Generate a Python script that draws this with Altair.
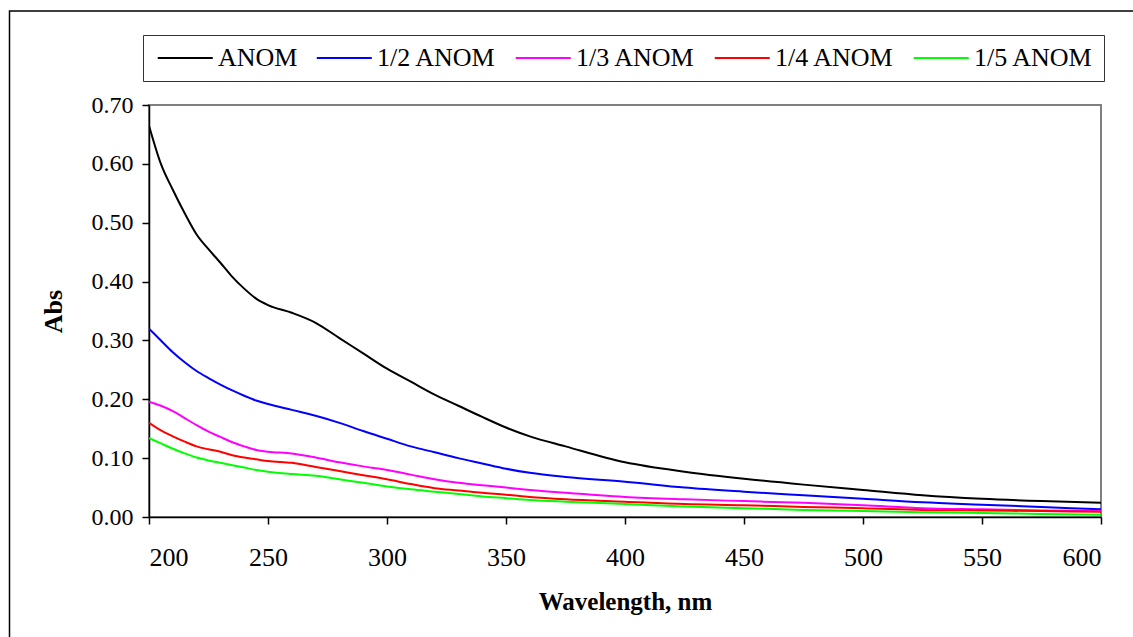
import altair as alt
import pandas as pd

FONT = "Liberation Serif"

# Wavelength grid (nm) shared by all spectra
wavelength = [200, 205, 210, 215, 220, 225, 230, 235, 240, 245, 250, 260, 270, 280,
              290, 300, 310, 320, 330, 340, 350, 360, 375, 400, 425, 450, 475, 500,
              525, 550, 575, 600]

# Absorbance of each dilution
anom = [0.665, 0.600, 0.556, 0.516, 0.480, 0.455, 0.432, 0.408, 0.388, 0.371, 0.360,
        0.347, 0.330, 0.304, 0.278, 0.252, 0.230, 0.208, 0.189, 0.170, 0.152, 0.137,
        0.120, 0.093, 0.077, 0.065, 0.055, 0.046, 0.037, 0.031, 0.027, 0.024]
anom_2 = [0.320, 0.300, 0.280, 0.263, 0.248, 0.236, 0.225, 0.215, 0.206, 0.198, 0.192,
          0.182, 0.172, 0.160, 0.146, 0.133, 0.120, 0.110, 0.100, 0.091, 0.082, 0.075,
          0.068, 0.060, 0.050, 0.043, 0.037, 0.031, 0.025, 0.021, 0.017, 0.013]
anom_3 = [0.196, 0.189, 0.180, 0.168, 0.156, 0.145, 0.136, 0.127, 0.120, 0.114, 0.111,
          0.108, 0.101, 0.093, 0.086, 0.080, 0.072, 0.064, 0.058, 0.054, 0.050, 0.046,
          0.041, 0.034, 0.030, 0.027, 0.024, 0.020, 0.015, 0.013, 0.011, 0.010]
anom_4 = [0.160, 0.147, 0.137, 0.128, 0.120, 0.115, 0.111, 0.105, 0.101, 0.098, 0.095,
          0.092, 0.085, 0.078, 0.071, 0.064, 0.056, 0.049, 0.045, 0.041, 0.038, 0.034,
          0.030, 0.026, 0.022, 0.020, 0.017, 0.015, 0.012, 0.011, 0.010, 0.009]
anom_5 = [0.134, 0.125, 0.116, 0.108, 0.101, 0.096, 0.092, 0.088, 0.084, 0.080, 0.077,
          0.073, 0.070, 0.064, 0.058, 0.052, 0.047, 0.043, 0.039, 0.035, 0.032, 0.029,
          0.026, 0.022, 0.018, 0.015, 0.012, 0.010, 0.008, 0.007, 0.005, 0.004]

series_names = ["ANOM", "1/2 ANOM", "1/3 ANOM", "1/4 ANOM", "1/5 ANOM"]
series_colors = ["#000000", "#0000FF", "#FF00FF", "#FF0000", "#00FF00"]
series_values = [anom, anom_2, anom_3, anom_4, anom_5]

x_ticks = [200, 250, 300, 350, 400, 450, 500, 550, 600]
y_ticks = [0.0, 0.1, 0.2, 0.3, 0.4, 0.5, 0.6, 0.7]

rows = []
for name, vals in zip(series_names, series_values):
    for w, v in zip(wavelength, vals):
        rows.append({"Wavelength": w, "Abs": v, "Series": name})
df = pd.DataFrame(rows)

PLOT_W, PLOT_H = 952, 412

lines = alt.Chart(df).mark_line(strokeWidth=2, clip=True, interpolate="monotone").encode(
    x=alt.X(
        "Wavelength:Q",
        scale=alt.Scale(domain=[200, 600], nice=False, zero=False),
        axis=alt.Axis(
            values=x_ticks, format="d", title="Wavelength, nm",
            grid=False, tickSize=7, tickColor="black", tickWidth=1.5,
            domainColor="black", domainWidth=1.5,
            labelFont=FONT, labelFontSize=26, labelColor="black",
            labelPadding=20, labelBaseline="top",
            titleFont=FONT, titleFontSize=25, titleFontWeight="bold",
            titleColor="black", titleBaseline="top", titleY=72,
        ),
    ),
    y=alt.Y(
        "Abs:Q",
        scale=alt.Scale(domain=[0, 0.7], nice=False),
        axis=alt.Axis(
            values=y_ticks, format=".2f", title="Abs",
            grid=False, tickSize=7, tickColor="black", tickWidth=1.5,
            domainColor="black", domainWidth=1.5,
            labelFont=FONT, labelFontSize=24, labelColor="black",
            labelPadding=9,
            titleFont=FONT, titleFontSize=26, titleFontWeight="bold",
            titleColor="black", titleAngle=270, titleBaseline="middle",
            titleAlign="center", titleX=-96, titleY=PLOT_H / 2,
        ),
    ),
    color=alt.Color(
        "Series:N",
        sort=series_names,
        scale=alt.Scale(domain=series_names, range=series_colors),
        legend=alt.Legend(
            orient="none", legendX=-6, legendY=-70, direction="horizontal",
            title=None, symbolType="M-1.5,0H8.5", symbolSize=121,
            symbolStrokeWidth=2, labelFont=FONT, labelFontSize=26,
            labelColor="black", labelOffset=39, labelLimit=0,
            columnPadding=14, padding=10,
            strokeColor="#333333", fillColor="white",
        ),
    ),
)

# Outer frame around the whole figure
frame = alt.Chart(pd.DataFrame({"k": [0]})).mark_rect(
    fill="transparent", stroke="black", strokeWidth=1.5
).encode(
    x=alt.value(-139.5), x2=alt.value(1300),
    y=alt.value(-94), y2=alt.value(800),
)

chart = alt.layer(frame, lines).properties(
    width=PLOT_W, height=PLOT_H,
    autosize=alt.AutoSizeParams(type="none"),
    padding={"left": 149, "top": 105, "right": 32, "bottom": 120},
    background="white",
).configure_view(
    stroke="#808080", strokeWidth=2,
).configure_axis(
    labelFont=FONT, titleFont=FONT,
).configure_legend(
    labelFont=FONT,
)

chart.save("out.html", embed_options={"renderer": "svg", "actions": False})
